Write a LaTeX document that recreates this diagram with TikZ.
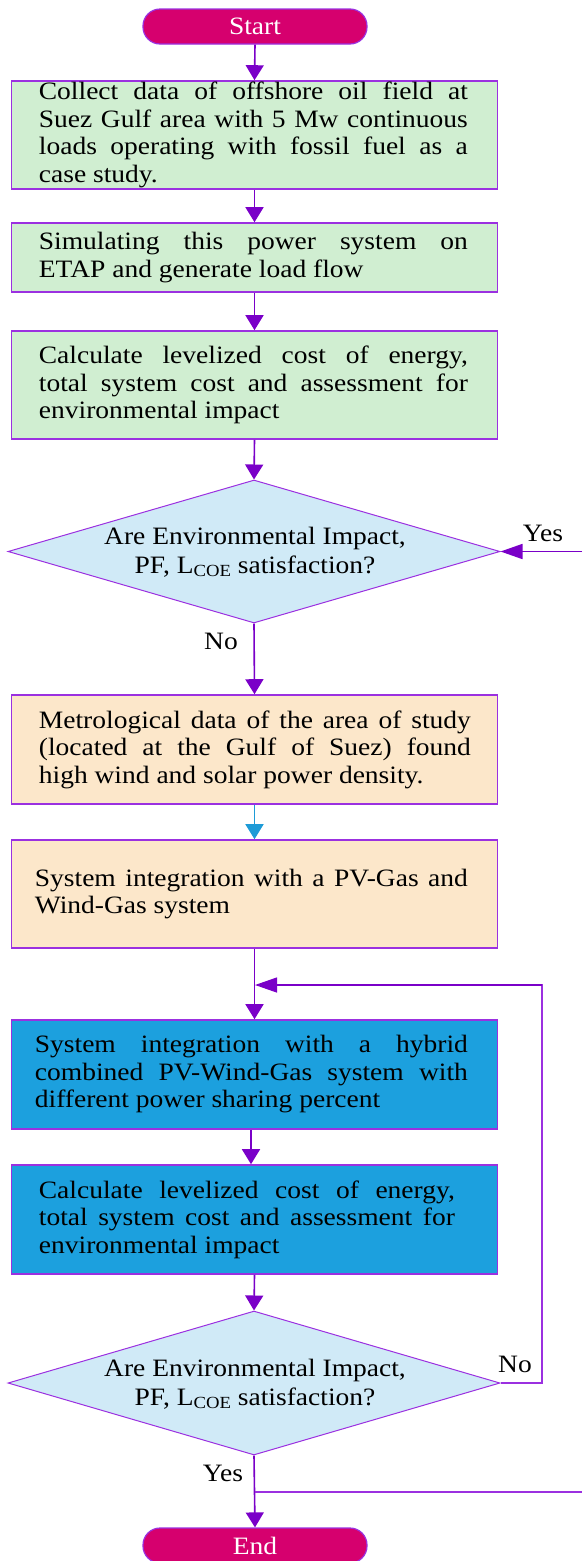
\documentclass[tikz,border=0pt]{standalone}
\usepackage{fontspec}
\setmainfont{Liberation Serif}[FakeStretch=1.1]
\usetikzlibrary{arrows.meta,shapes.geometric}
\definecolor{arrowc}{HTML}{7A00C8}
\definecolor{borderc}{HTML}{9B30E0}
\definecolor{pillc}{HTML}{D6006E}
\definecolor{greenc}{HTML}{D0EED1}
\definecolor{decc}{HTML}{D0EAF7}
\definecolor{peachc}{HTML}{FCE7CA}
\definecolor{bluec}{HTML}{1CA0DE}
\definecolor{bluearr}{HTML}{1E9BD7}
\newcommand{\flowfont}{\fontsize{25}{27.5}\selectfont\tolerance=10000\hyphenpenalty=10000\relax}
\newcommand{\lcoe}{L\raisebox{-3.5pt}{\fontsize{17}{17}\selectfont COE}}
\begin{document}
\begin{tikzpicture}[x=1pt,y=-1pt,
  flowbox/.style={draw=borderc, line width=1.6pt, minimum width=486pt, inner sep=0pt},
  pill/.style={draw=borderc, line width=1.2pt, fill=pillc, rounded corners=17pt, minimum width=224pt, minimum height=35pt, inner sep=0pt, text=white, font=\flowfont},
  dec/.style={diamond, draw=borderc, line width=1pt, fill=decc, minimum width=492pt, minimum height=143pt, inner sep=0pt},
  btext/.style={anchor=west, inner sep=0pt, text width=429pt, align=justify, font=\flowfont},
  dtext/.style={inner sep=0pt, align=center, font=\fontsize{25}{29}\selectfont},
  conn/.style={draw=arrowc, line width=1.6pt, -{Triangle[length=15pt,width=18pt]}},
  hconn/.style={draw=arrowc, line width=1.6pt, -{Triangle[length=22pt,width=15pt]}},
  thinline/.style={draw=borderc, line width=1.2pt},
  lbl/.style={font=\flowfont, inner sep=0pt}]
\useasboundingbox (0,0) rectangle (582,1561);

% nodes
\node[pill] (start) at (255,26.5) {Start};
\node[flowbox, fill=greenc, minimum height=108pt] (b1) at (254.5,135) {};
\node[btext] (t1) at ([xshift=28pt]b1.west) {Collect data of offshore oil field at\linebreak Suez Gulf area with 5 Mw continuous\linebreak loads operating with fossil fuel as a\linebreak case study.};
\node[flowbox, fill=greenc, minimum height=69pt] (b2) at (254.5,257.5) {};
\node[btext] (t2) at ([xshift=28pt]b2.west) {Simulating this power system on\linebreak ETAP and generate load flow};
\node[flowbox, fill=greenc, minimum height=108pt] (b3) at (254.5,385) {};
\node[btext] (t3) at ([xshift=28pt]b3.west) {Calculate levelized cost of energy,\linebreak total system cost and assessment for\linebreak environmental impact};
\node[dec] (d1) at (254,551.5) {};
\node[dtext] (dt1) at (255,552) {Are Environmental Impact,\\PF, \lcoe{} satisfaction?};
\node[flowbox, fill=peachc, minimum height=109pt] (b4) at (254.5,749.5) {};
\node[btext, text width=432pt] (t4) at ([xshift=28pt]b4.west) {Metrological data of the area of study\linebreak (located at the Gulf of Suez) found\linebreak high wind and solar power density.};
\node[flowbox, fill=peachc, minimum height=108pt] (b5) at (254.5,894) {};
\node[btext, text width=433pt] (t5) at ([xshift=24pt]b5.west) {System integration with a PV-Gas and\linebreak Wind-Gas system};
\node[flowbox, fill=bluec, minimum height=109pt] (b6) at (254.5,1074.5) {};
\node[btext, text width=433pt] (t6) at ([xshift=24pt]b6.west) {System integration with a hybrid\linebreak combined PV-Wind-Gas system with\linebreak different power sharing percent};
\node[flowbox, fill=bluec, minimum height=109pt] (b7) at (254.5,1219.5) {};
\node[btext, text width=416pt] (t7) at ([xshift=28pt]b7.west) {Calculate levelized cost of energy,\linebreak total system cost and assessment for\linebreak environmental impact};
\node[dec, minimum height=144pt] (d2) at (254,1383) {};
\node[dtext] (dt2) at (255,1384) {Are Environmental Impact,\\PF, \lcoe{} satisfaction?};
\node[pill] (end) at (255,1545.5) {End};

% labels
\node[lbl] (yes1) at (543,533) {Yes};
\node[lbl] (no1) at (221,641) {No};
\node[lbl] (no2) at (515,1364) {No};
\node[lbl] (yes2) at (223,1473) {Yes};

% coordinates
\coordinate (edge1) at (582,551.5);
\coordinate (j1) at (255,985);
\coordinate (loopx) at (542,985);
\coordinate (j2) at (255,1492);
\coordinate (edge2) at (582,1492);

% connectors
\draw[conn] (start.south) -- (b1.north);
\draw[conn] (b1.south) -- (b2.north);
\draw[conn] (b2.south) -- (b3.north);
\draw[conn] (b3.south) -- (d1.north);
\draw[hconn] (edge1) -- (d1.east);
\draw[conn] (d1.south) -- (b4.north);
\draw[conn, draw=bluearr] (b4.south) -- (b5.north);
\draw[conn] (b5.south) -- (b6.north);
\draw[thinline] (d2.east) -- (d2.east -| loopx) -- (loopx) -- (j1 -| 270,0);
\draw[hconn, line width=1.2pt] (loopx) -- (j1);
\draw[conn] ([xshift=-3.5pt]b6.south) -- ([xshift=-3.5pt]b7.north);
\draw[conn] (b7.south) -- (d2.north);
\draw[conn] (d2.south) -- (end.north);
\draw[thinline] (j2) -- (edge2);
\end{tikzpicture}
\end{document}
